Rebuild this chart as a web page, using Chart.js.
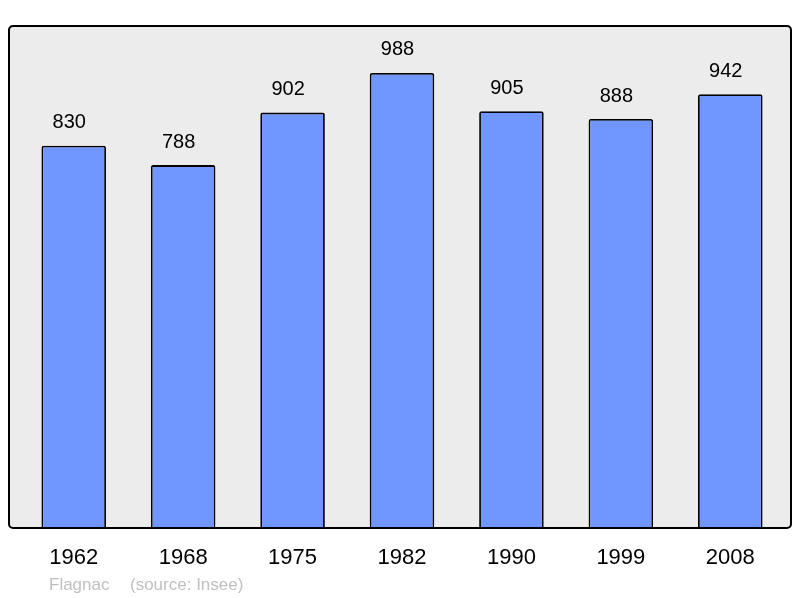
<!DOCTYPE html>
<html>
<head>
<meta charset="utf-8">
<script src="https://cdn.jsdelivr.net/npm/chart.js@4/dist/chart.umd.min.js"></script>
<style>
  html, body { margin: 0; padding: 0; background: #fff; }
  #wrap { position: relative; width: 800px; height: 598px; }
  .foot {
    position: absolute; top: 576px;
    font: 17px/17px "Liberation Sans", Arial, sans-serif; color: #c0c0c0;
    white-space: pre;
  }
</style>
</head>
<body>
<div id="wrap">
  <canvas id="chart" width="800" height="598"></canvas>
  <div class="foot" style="left:49px">Flagnac</div>
  <div class="foot" style="left:130px">(source: Insee)</div>
</div>
<script>
const years = ["1962", "1968", "1975", "1982", "1990", "1999", "2008"];
const population = [830, 788, 902, 988, 905, 888, 942];

const FONT = "'Liberation Sans', Arial, sans-serif";

// grey rounded panel behind the bars
const panel = {
  id: "panel",
  beforeDraw(chart) {
    const { ctx, chartArea } = chart;
    ctx.save();
    ctx.beginPath();
    ctx.roundRect(9, chartArea.top, 782, chartArea.bottom - chartArea.top, 4);
    ctx.fillStyle = "#ececec";
    ctx.fill();
    ctx.restore();
  },
  afterDraw(chart) {
    const { ctx, chartArea } = chart;
    ctx.save();
    ctx.beginPath();
    ctx.roundRect(9, chartArea.top, 782, chartArea.bottom - chartArea.top, 4);
    ctx.lineWidth = 2;
    ctx.strokeStyle = "#000";
    ctx.stroke();
    ctx.restore();
  },
};

// numbers on top of each bar (a bit left of centre, like the original)
const valueLabels = {
  id: "valueLabels",
  afterDatasetsDraw(chart) {
    const { ctx } = chart;
    const meta = chart.getDatasetMeta(0);
    ctx.save();
    ctx.font = "20px " + FONT;
    ctx.fillStyle = "#000";
    ctx.textAlign = "center";
    ctx.textBaseline = "middle";
    meta.data.forEach((bar, i) => {
      ctx.fillText(String(population[i]), bar.x - 4.5, bar.y - 23);
    });
    ctx.restore();
  },
};

new Chart(document.getElementById("chart"), {
  type: "bar",
  data: {
    labels: years,
    datasets: [
      {
        data: population,
        backgroundColor: "#7096ff",
        borderColor: "#000",
        borderWidth: 1.8,
        borderRadius: 2,
        borderSkipped: "bottom",
        barPercentage: 0.59,
        categoryPercentage: 1,
      },
    ],
  },
  options: {
    responsive: false,
    animation: false,
    layout: {
      padding: { left: 19, right: 15, top: 26, bottom: 0 },
    },
    plugins: {
      legend: { display: false },
      tooltip: { enabled: false },
    },
    scales: {
      x: {
        grid: { display: false, drawTicks: false },
        border: { display: false },
        ticks: {
          color: "#000",
          font: { family: FONT, size: 22 },
          padding: 17,
        },
        afterFit(scale) {
          scale.height = 70;
        },
      },
      y: {
        display: false,
        min: 0,
        max: 1090,
      },
    },
  },
  plugins: [panel, valueLabels],
});
</script>
</body>
</html>
